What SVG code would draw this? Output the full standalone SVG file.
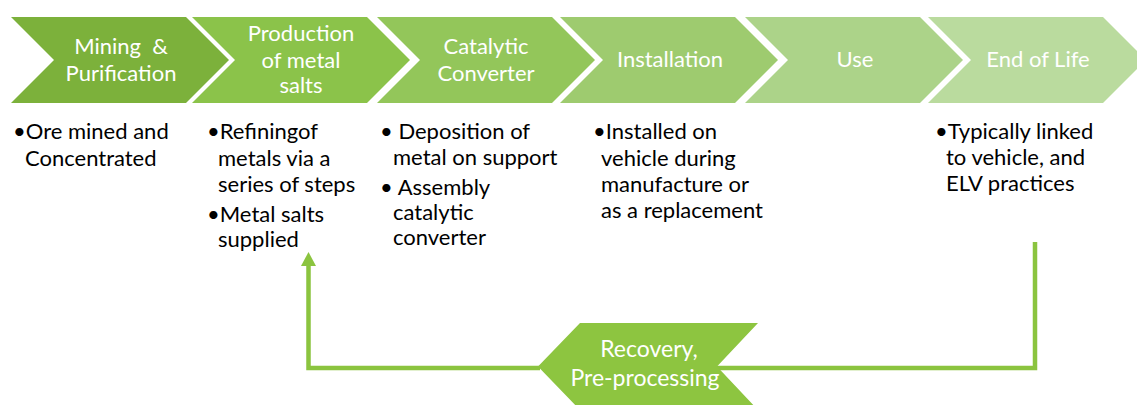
<svg xmlns="http://www.w3.org/2000/svg" width="1137" height="405" viewBox="0 0 1137 405">
<style>
.ct{font-family:Lato,"Liberation Sans",sans-serif;font-size:22px;fill:#ffffff;text-anchor:middle}
.bt{font-family:Lato,"Liberation Sans",sans-serif;font-size:22px;fill:#000000}
.ln{fill:none;stroke:#8bc43f;stroke-width:4.5}
</style>
<defs>
<marker id="ah" markerUnits="userSpaceOnUse" markerWidth="16" markerHeight="16" viewBox="0 0 16 16" refX="0" refY="8" orient="auto" overflow="visible">
<path d="M0,0.5 L14,8 L0,15.5 Z" fill="#8bc43f"/>
</marker>
</defs>
<rect width="1137" height="405" fill="#ffffff"/>
<g id="n1">
<polygon points="11,17 186,17 229,60 186,103 11,103 54,60" fill="#7cb13b"/>
<text class="ct"><tspan x="121" y="54">Mining&#160; &amp;</tspan><tspan x="121" y="81">Purification</tspan></text>
</g>
<g id="n2">
<polygon points="192,17 367,17 410,60 367,103 192,103 235,60" fill="#8bc34a"/>
<text class="ct"><tspan x="301" y="41">Production</tspan><tspan x="301" y="68">of metal</tspan><tspan x="301" y="93">salts</tspan></text>
</g>
<g id="n3">
<polygon points="377,17 552,17 595,60 552,103 377,103 420,60" fill="#93c65a"/>
<text class="ct"><tspan x="486" y="54">Catalytic</tspan><tspan x="486" y="81">Converter</tspan></text>
</g>
<g id="n4">
<polygon points="560,17 735,17 778,60 735,103 560,103 603,60" fill="#9ecb6f"/>
<text class="ct" x="670" y="67">Installation</text>
</g>
<g id="n5">
<polygon points="745,17 920,17 963,60 920,103 745,103 788,60" fill="#acd389"/>
<text class="ct" x="855" y="67">Use</text>
</g>
<g id="n6">
<polygon points="928,17 1103,17 1146,60 1103,103 928,103 971,60" fill="#badb9e"/>
<text class="ct" x="1038" y="67">End of Life</text>
</g>
<g id="t1">
<text class="bt"><tspan x="13" y="139">•Ore mined and</tspan><tspan x="25" y="166">Concentrated</tspan></text>
</g>
<g id="t2">
<text class="bt"><tspan x="207" y="139">•Refiningof</tspan><tspan x="218" y="166">metals via a</tspan><tspan x="218" y="192">series of steps</tspan><tspan x="207" y="222">•Metal salts</tspan><tspan x="218" y="247">supplied</tspan></text>
</g>
<g id="t3">
<text class="bt" xml:space="preserve"><tspan x="380" y="139">• Deposition of</tspan><tspan x="393" y="165">metal on support</tspan><tspan x="380" y="195">• Assembly</tspan><tspan x="393" y="220">catalytic</tspan><tspan x="393" y="245">converter</tspan></text>
</g>
<g id="t4">
<text class="bt"><tspan x="593" y="139">•Installed on</tspan><tspan x="601" y="166">vehicle during</tspan><tspan x="601" y="192">manufacture or</tspan><tspan x="601" y="218">as a replacement</tspan></text>
</g>
<g id="t5">
<text class="bt"><tspan x="935" y="139">•Typically linked</tspan><tspan x="946" y="165">to vehicle, and</tspan><tspan x="946" y="191">ELV practices</tspan></text>
</g>
<g id="connectors">
<path class="ln" d="M1035,242 V368 H717"/>
<path class="ln" d="M540,368 H308.5 V266" marker-end="url(#ah)"/>
</g>
<g id="n7">
<polygon points="580,323 758,323 717,366.5 758,410 580,410 538,366.5" fill="#8dc540"/>
<text class="ct" style="font-size:23px"><tspan x="649" y="357">Recovery,</tspan><tspan x="645" y="386">Pre-processing</tspan></text>
</g>
</svg>
